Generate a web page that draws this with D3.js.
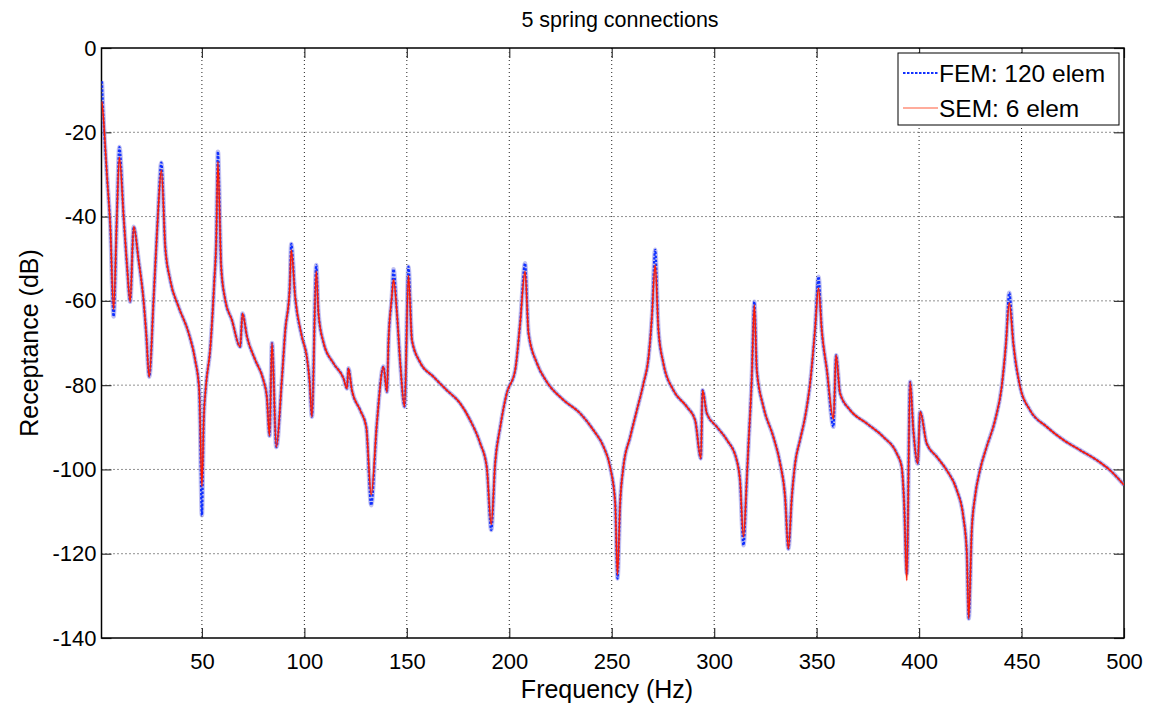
<!DOCTYPE html>
<html lang="en">
<head>
<meta charset="UTF-8">
<title>5 spring connections</title>
<script src="https://d3js.org/d3.v7.min.js"></script>
<style>
    body { margin: 0; background: #fff; font-family: "Liberation Sans", Arial, sans-serif; }
    .grid line { stroke: #222; stroke-dasharray: 1,3; stroke-width: 1; }
</style>
</head>
<body>
<div id="chart"></div>
<script>
// frequencies (Hz)
const freq = [1.2,2.0,3.7,5.3,6.9,8.5,9.7,11.8,13.5,15.0,
    16.7,19.1,21.5,22.8,24.3,26.4,28.5,30.2,32.1,34.5,
    38.6,43.5,46.7,48.7,50.0,50.9,52.0,54.0,56.0,57.0,
    57.8,59.4,61.4,64.6,68.7,69.8,72.0,76.0,80.0,81.7,
    83.0,84.2,86.3,89.0,90.7,92.8,93.6,95.5,98.8,101.2,
    102.5,103.7,105.8,106.9,109.4,114.2,119.1,120.8,121.5,123.2,
    127.2,130.2,132.6,135.4,138.6,140.3,141.1,142.7,143.5,145.2,
    146.8,148.9,150.8,152.5,156.5,163.0,169.5,176.0,180.9,185.8,
    189.0,191.2,193.1,195.6,198.8,202.9,205.3,207.7,209.4,213.5,
    218.3,226.4,234.6,241.1,246.0,249.2,251.7,252.8,254.1,255.7,
    259.0,262.3,265.5,268.0,269.6,271.2,272.8,275.2,280.1,286.6,
    290.7,293.5,294.3,296.4,301.3,306.2,311.0,312.6,314.3,315.9,
    316.7,318.3,319.6,320.8,324.0,328.9,332.2,334.6,336.2,337.9,
    339.5,341.9,344.4,346.8,349.2,350.9,352.5,355.0,358.2,359.5,
    361.4,366.3,374.5,382.6,389.1,391.5,392.7,394.0,395.6,397.2,
    399.3,400.5,403.7,408.6,413.5,418.4,421.6,423.3,424.2,425.7,
    427.3,429.7,433.0,437.1,440.3,442.4,444.0,446.0,449.3,454.1,
    462.3,470.4,478.5,486.7,493.2,500.0];

// FEM: 120 elem (dB)
const fem = [-7.9,-17,-30.5,-42.4,-63.7,-40,-23.5,-40,-52,-60.2,
    -42.4,-50.3,-59.8,-67.6,-78,-59.8,-40,-27.2,-47.1,-55,
    -61.4,-67.6,-74,-81.2,-110.9,-88,-80,-71.7,-55.8,-45.5,
    -24.6,-51.9,-59.8,-64.5,-70.9,-63,-68.5,-74,-78.8,-82.8,
    -92,-70,-94.7,-78.8,-66.9,-57.4,-46.5,-59,-68.5,-73.3,
    -78.8,-87.5,-51.5,-63,-70,-74.8,-78.4,-80.8,-76,-81.2,
    -85.9,-89.9,-108.5,-89,-75.6,-81.6,-69.3,-59,-52.5,-63,
    -74.8,-85.1,-51.9,-69.3,-74.6,-78,-81.2,-84.3,-88.3,-93.8,
    -99.4,-114.4,-98.6,-89.9,-81.9,-76.4,-65.3,-51.1,-67.7,-74.8,
    -79.2,-83.5,-86.7,-90.7,-94.6,-99.4,-108,-125.9,-108,-99.4,
    -92.3,-85.9,-79.6,-73.3,-63.8,-47.9,-66.9,-74.8,-81.2,-85.1,
    -88.3,-97.4,-81.2,-86.7,-89.9,-93,-97.8,-102.5,-118,-102.5,
    -94.6,-78.8,-60.2,-76.4,-85.1,-92.3,-98.6,-106.5,-118.8,-106.5,
    -98.6,-93,-87.5,-79.6,-66.9,-54.3,-66.9,-76.4,-89.9,-72.9,
    -81.9,-85.9,-89.1,-92.3,-96.2,-99.4,-108,-124.7,-79.2,-90.7,
    -98.6,-86.3,-93.8,-97,-100.2,-104.9,-111.3,-120,-135.4,-114.4,
    -106.5,-100.2,-94.6,-88.3,-80.4,-70.1,-58.1,-70.1,-80.4,-85.9,
    -89.9,-93,-95.4,-97.8,-100.2,-103.7];

// SEM: 6 elem (dB)
const sem = [-12.7,-17,-30.5,-42.4,-62,-40,-26,-40,-52,-60.2,
    -42.4,-50.3,-59.8,-67.6,-78,-59.8,-40,-29,-47.1,-55,
    -61.4,-67.6,-74,-81.2,-104,-88,-80,-71.7,-55.8,-45.5,
    -27,-51.9,-59.8,-64.5,-70.9,-63,-68.5,-74,-78.8,-82.8,
    -92,-70,-94.7,-78.8,-66.9,-57.4,-48,-59,-68.5,-73.3,
    -78.8,-87.5,-53,-63,-70,-74.8,-78.4,-80.8,-76,-81.2,
    -85.9,-89.9,-106,-89,-75.6,-81.6,-69.3,-59,-55,-63,
    -74.8,-85.1,-54,-69.3,-74.6,-78,-81.2,-84.3,-88.3,-93.8,
    -99.4,-113,-98.6,-89.9,-81.9,-76.4,-65.3,-53,-67.7,-74.8,
    -79.2,-83.5,-86.7,-90.7,-94.6,-99.4,-108,-125,-108,-99.4,
    -92.3,-85.9,-79.6,-73.3,-63.8,-51.5,-66.9,-74.8,-81.2,-85.1,
    -88.3,-97.4,-81.2,-86.7,-89.9,-93,-97.8,-102.5,-116,-102.5,
    -94.6,-78.8,-61,-76.4,-85.1,-92.3,-98.6,-106.5,-118.8,-106.5,
    -98.6,-93,-87.5,-79.6,-66.9,-57,-66.9,-76.4,-88,-72.9,
    -81.9,-85.9,-89.1,-92.3,-96.2,-99.4,-108,-126.3,-79.2,-90.7,
    -98.6,-86.3,-93.8,-97,-100.2,-104.9,-111.3,-120,-135.4,-114.4,
    -106.5,-100.2,-94.6,-88.3,-80.4,-70.1,-60.5,-70.1,-80.4,-85.9,
    -89.9,-93,-95.4,-97.8,-100.2,-103.7];

const xTicks = [50, 100, 150, 200, 250, 300, 350, 400, 450, 500];
const yTicks = [0, -20, -40, -60, -80, -100, -120, -140];

const W = 1153, H = 711;
const margin = { top: 48, right: 29, bottom: 73, left: 101.5 };
const width = W - margin.left - margin.right;
const height = H - margin.top - margin.bottom;

const svg = d3.select("#chart").append("svg")
    .attr("width", W)
    .attr("height", H);

const g = svg.append("g")
    .attr("transform", "translate(" + margin.left + "," + margin.top + ")");

const x = d3.scaleLinear().domain([1, 500]).range([0, width]);
const y = d3.scaleLinear().domain([-140, 0]).range([height, 0]);

// grid
g.append("g").attr("class", "grid")
    .selectAll("line").data(xTicks.slice(0, -1)).enter().append("line")
    .attr("x1", d => x(d)).attr("x2", d => x(d))
    .attr("y1", 0).attr("y2", height);
g.append("g").attr("class", "grid")
    .selectAll("line").data(yTicks.slice(1, -1)).enter().append("line")
    .attr("x1", 0).attr("x2", width)
    .attr("y1", d => y(d)).attr("y2", d => y(d));

// axes (ticks pointing inward, box on)
const tickLen = 10;
g.append("g").attr("class", "x axis")
    .attr("transform", "translate(0," + height + ")")
    .call(d3.axisBottom(x).tickValues(xTicks).tickSizeInner(-tickLen).tickSizeOuter(0).tickPadding(15));
g.append("g")
    .call(d3.axisTop(x).tickValues(xTicks).tickSizeInner(-tickLen).tickSizeOuter(0).tickFormat(""));
g.append("g").attr("class", "y axis")
    .call(d3.axisLeft(y).tickValues(yTicks).tickSizeInner(-tickLen).tickSizeOuter(0).tickPadding(5));
g.append("g")
    .attr("transform", "translate(" + width + ",0)")
    .call(d3.axisRight(y).tickValues(yTicks).tickSizeInner(-tickLen).tickSizeOuter(0).tickFormat(""));
g.selectAll(".domain").remove();
g.selectAll(".tick line").attr("stroke", "#333").attr("stroke-width", 1.2);
g.selectAll(".tick text")
    .attr("font-family", "'Liberation Sans', Arial, sans-serif")
    .attr("font-size", 22).attr("fill", "#000");
g.selectAll(".y.axis .tick text").text(d => d === 0 ? "0" : "-" + Math.abs(d));

// box
g.append("rect")
    .attr("width", width).attr("height", height)
    .attr("fill", "none").attr("stroke", "#000").attr("stroke-width", 1.5);

// curves
g.append("clipPath").attr("id", "clip")
    .append("rect").attr("width", width).attr("height", height);

const line = d3.line()
    .x((d, i) => x(freq[i]))
    .y(d => y(d))
    .curve(d3.curveMonotoneX);

const plot = g.append("g").attr("clip-path", "url(#clip)");
plot.append("path").datum(fem).attr("d", line)
    .attr("fill", "none").attr("stroke", "#8c8ce8").attr("stroke-width", 4.5)
    .attr("stroke-opacity", 0.55).attr("stroke-linejoin", "round");
plot.append("path").datum(fem).attr("d", line)
    .attr("fill", "none").attr("stroke", "#1030ff").attr("stroke-width", 2.2)
    .attr("stroke-dasharray", "2.5,1.5");
plot.append("path").datum(sem).attr("d", line)
    .attr("fill", "none").attr("stroke", "#ff5a3a").attr("stroke-width", 2.4)
    .attr("stroke-opacity", 0.35).attr("stroke-linejoin", "round");
plot.append("path").datum(sem).attr("d", line)
    .attr("fill", "none").attr("stroke", "#ff1a00").attr("stroke-width", 1.4)
    .attr("stroke-linejoin", "round");

// title and labels
svg.append("text")
    .attr("x", 620).attr("y", 27)
    .attr("text-anchor", "middle")
    .attr("font-size", 21.5)
    .text("5 spring connections");
svg.append("text")
    .attr("x", 607).attr("y", 698)
    .attr("text-anchor", "middle")
    .attr("font-size", 25)
    .text("Frequency (Hz)");
svg.append("text")
    .attr("transform", "translate(38," + (margin.top + height / 2) + ") rotate(-90)")
    .attr("text-anchor", "middle")
    .attr("font-size", 25)
    .text("Receptance (dB)");

// legend
const lg = svg.append("g").attr("transform", "translate(898,53)");
lg.append("rect").attr("width", 221).attr("height", 72)
    .attr("fill", "#fff").attr("stroke", "#000").attr("stroke-width", 1);
lg.append("line").attr("x1", 5).attr("x2", 40).attr("y1", 20).attr("y2", 20)
    .attr("stroke", "#1030ff").attr("stroke-width", 2.2).attr("stroke-dasharray", "2.5,1.5");
lg.append("text").attr("x", 41).attr("y", 29).attr("font-size", 24.5).text("FEM: 120 elem");
lg.append("line").attr("x1", 5).attr("x2", 40).attr("y1", 55).attr("y2", 55)
    .attr("stroke", "#ff5a3a").attr("stroke-width", 1.2);
lg.append("text").attr("x", 41).attr("y", 64).attr("font-size", 24.5).text("SEM: 6 elem");
</script>
</body>
</html>
